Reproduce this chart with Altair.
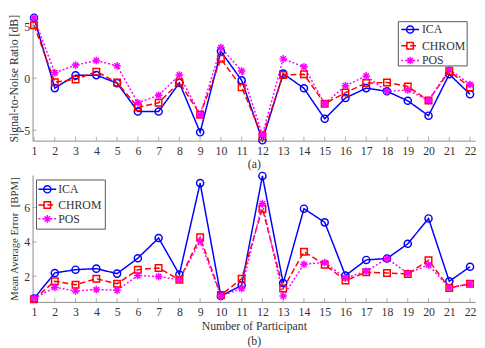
import altair as alt
import pandas as pd

participants = list(range(1, 23))
methods = ["ICA", "CHROM", "POS"]
colors = ["#0000FF", "#FF0000", "#FF00FF"]
dashes = [[1, 0], [6, 3], [2, 2]]

snr_ica = [5.8, -0.95, 0.28, 0.3, -0.47, -3.2, -3.2, -0.45, -5.2, 2.58, -0.2, -5.97, 0.44, -0.97, -3.9, -1.9, -0.95, -1.26, -2.17, -3.6, 0.38, -1.54]
snr_chrom = [5.1, -0.38, -0.12, 0.63, -0.41, -2.8, -2.36, -0.38, -3.5, 1.86, -0.88, -5.6, 0.31, 0.38, -2.45, -1.38, -0.47, -0.41, -0.79, -2.14, 0.69, -0.88]
snr_pos = [5.8, 0.53, 1.26, 1.7, 1.19, -2.36, -1.64, 0.31, -3.5, 2.95, 0.69, -5.44, 1.86, 1.1, -2.45, -0.72, 0.22, -1.26, -1.13, -2.14, 0.85, -0.6]

mae_ica = [0.70, 2.19, 2.38, 2.44, 2.15, 3.05, 4.23, 2.1, 7.43, 0.84, 1.47, 7.85, 1.6, 5.94, 5.14, 2.04, 2.95, 3.03, 3.89, 5.37, 1.7, 2.55]
mae_chrom = [0.65, 1.71, 1.5, 1.85, 1.56, 2.38, 2.48, 1.79, 4.27, 0.9, 1.85, 5.94, 1.28, 3.43, 2.67, 1.75, 2.23, 2.19, 2.13, 2.93, 1.31, 1.56]
mae_pos = [0.7, 1.35, 1.14, 1.22, 1.18, 2.04, 1.98, 1.79, 4.04, 0.84, 1.28, 6.23, 0.84, 2.7, 2.8, 1.89, 2.29, 3.03, 2.17, 2.65, 1.33, 1.56]

snr_ticks = [-5, 0, 5]
mae_ticks = [2, 4, 6]

FONT = "Liberation Serif"
AXIS_COLOR = "#8c8c8c"
TEXT_COLOR = "#333333"
W = 450

ASTERISK = "M-1,0L1,0M0,-1L0,1M-0.7,-0.7L0.7,0.7M-0.7,0.7L0.7,-0.7"
shapes = ["circle", "square", ASTERISK]
sizes = [52, 44, 60]


def panel(series, ydomain, yticks, ytitle, xtitle, H, leg, ytp, ytfs, xtp):
    rows = []
    for m, vals in zip(methods, series):
        for p, v in zip(participants, vals):
            rows.append({"participant": p, "value": v, "method": m})
    df = pd.DataFrame(rows)

    x = alt.X("participant:Q",
              scale=alt.Scale(domain=[0.93, 22.24], nice=False, zero=False),
              axis=alt.Axis(values=participants, title=xtitle, tickSize=0,
                            labelPadding=5, titlePadding=xtp, grid=False,
                            labelOverlap=False, labelFlush=False))
    y = alt.Y("value:Q",
              scale=alt.Scale(domain=ydomain, nice=False, zero=False),
              axis=alt.Axis(values=yticks, title=ytitle, tickSize=0,
                            labelPadding=3, titlePadding=ytp, titleFontSize=ytfs,
                            grid=False, labelOverlap=False,
                            labelExpr="replace(datum.label, '\u2212', '-')"))

    lines = alt.Chart(df).mark_line(strokeWidth=1.5).encode(
        x=x, y=y,
        color=alt.Color("method:N", scale=alt.Scale(domain=methods, range=colors), legend=None),
        strokeDash=alt.StrokeDash("method:N", scale=alt.Scale(domain=methods, range=dashes), legend=None),
    )
    layers = [lines]
    for m, c, s, sz in zip(methods, colors, shapes, sizes):
        layers.append(
            alt.Chart(df[df.method == m]).mark_point(
                shape=s, size=sz, filled=False, color=c, strokeWidth=1.5, opacity=1
            ).encode(x=x, y=y)
        )

    # inward ticks
    xt = pd.DataFrame({"participant": participants})
    layers.append(alt.Chart(xt).mark_tick(orient="vertical", size=4, thickness=1, color=AXIS_COLOR)
                  .encode(x=x, y=alt.value(H - 2)))
    yt = pd.DataFrame({"value": yticks})
    layers.append(alt.Chart(yt).mark_tick(orient="horizontal", size=4, thickness=1, color=AXIS_COLOR)
                  .encode(y=y, x=alt.value(2)))

    # legend
    bx0, bx1, by0, by1, lx0, lx1, lmx, ltx, lys = leg
    one = pd.DataFrame({"k": [0]})
    layers.append(alt.Chart(one).mark_rect(fill="white", stroke="#555555", strokeWidth=1)
                  .encode(x=alt.value(bx0), x2=alt.value(bx1), y=alt.value(by0), y2=alt.value(by1)))
    for m, c, d, s, sz, ly in zip(methods, colors, dashes, shapes, sizes, lys):
        ldf = pd.DataFrame({"method": [m]})
        layers.append(alt.Chart(ldf).mark_rule(color=c, strokeWidth=1.5, strokeDash=d)
                      .encode(x=alt.value(lx0), x2=alt.value(lx1), y=alt.value(ly)))
        layers.append(alt.Chart(ldf).mark_point(shape=s, size=sz, filled=False, color=c,
                                                strokeWidth=1.5, opacity=1)
                      .encode(x=alt.value(lmx), y=alt.value(ly)))
        layers.append(alt.Chart(ldf).mark_text(align="left", baseline="middle", font=FONT,
                                               fontSize=12, color=TEXT_COLOR)
                      .encode(text="method:N", x=alt.value(ltx), y=alt.value(ly)))

    return alt.layer(*layers).properties(width=W, height=H)


top = panel([snr_ica, snr_chrom, snr_pos], [-6, 6], snr_ticks,
            "Signal-to-Noise Ratio [dB]", "(a)", 127,
            (372, 442, 6, 51, 375, 393, 384, 396, [14, 30.5, 45.5]), -1, 12, 2)
bottom = panel([mae_ica, mae_chrom, mae_pos], [0.5, 7.9], mae_ticks,
               "Mean Average Error\u00a0 [BPM]", ["Number of Participant", "(b)"], 129,
               (4, 74, 5, 55, 6, 24, 15, 26, [14.5, 30.5, 44.5]), 4, 11, 3.5)

chart = alt.vconcat(top, bottom, spacing=0).properties(
    padding={"left": 0, "top": 0, "right": 0, "bottom": 0}
).configure_view(stroke=None).configure_axis(
    domainColor=AXIS_COLOR, labelFont=FONT, titleFont=FONT, labelFontSize=12,
    titleFontSize=12, titleFontWeight="normal", labelColor=TEXT_COLOR,
    titleColor=TEXT_COLOR, titleLineHeight=15
)

chart.save("out.html", embed_options={"renderer": "svg", "actions": False})
